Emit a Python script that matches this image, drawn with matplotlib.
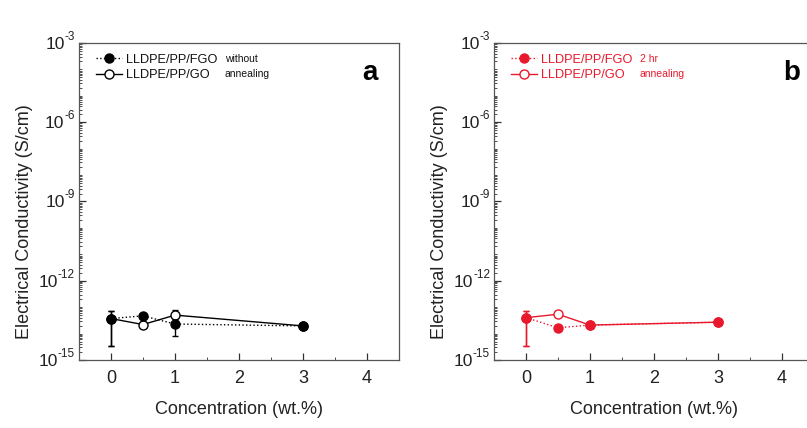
import matplotlib
matplotlib.use("Agg")
import matplotlib.pyplot as plt
from matplotlib.lines import Line2D
from matplotlib.ticker import LogLocator, FixedLocator, NullFormatter
import numpy as np

plt.rcParams['font.family'] = ['Liberation Sans', 'DejaVu Sans']

# Filler concentrations (wt.%)
conc = [0, 0.5, 1, 3]

# Panel a: without annealing (S/cm)
a_fgo = [3.7e-14, 4.7e-14, 2.3e-14, 1.95e-14]
a_go = [3.7e-14, 2.2e-14, 5.0e-14, 1.95e-14]
a_fgo_lo = [3.5e-15, 4.0e-14, 8.0e-15, 1.8e-14]
a_fgo_hi = [7.2e-14, 5.3e-14, 2.6e-14, 2.1e-14]
a_go_lo = [3.5e-15, 1.9e-14, 3.5e-14, 1.8e-14]
a_go_hi = [7.2e-14, 2.5e-14, 8.1e-14, 2.1e-14]

# Panel b: 2 hr annealing (S/cm)
b_fgo = [4.0e-14, 1.66e-14, 2.1e-14, 2.7e-14]
b_go = [4.0e-14, 5.4e-14, 2.1e-14, 2.7e-14]
b_fgo_lo = [3.5e-15, 1.5e-14, 1.9e-14, 2.4e-14]
b_fgo_hi = [7.2e-14, 1.9e-14, 2.3e-14, 3.0e-14]
b_go_lo = [3.5e-15, 4.2e-14, 1.9e-14, 2.4e-14]
b_go_hi = [7.2e-14, 6.2e-14, 2.3e-14, 3.0e-14]

x_ticks = [0, 1, 2, 3, 4]
y_exponents = [-15, -12, -9, -6, -3]

W, H = 807, 428
fig = plt.figure(figsize=(W / 100, H / 100), dpi=100)


def pixel_axes(left, top, width, height):
    return fig.add_axes([left / W, (H - top - height) / H, width / W, height / H])


def power_labels(ax):
    # "10" with a small raised exponent, right-aligned next to the left spine
    for e in y_exponents:
        v = 10.0 ** e
        sup = ax.annotate(f'-{abs(e)}' if e < 0 else str(e), xy=(0, v),
                          xycoords=('axes fraction', 'data'), xytext=(-4, 3),
                          textcoords='offset pixels', ha='right', va='baseline',
                          fontsize=8.5, color='#222222', annotation_clip=False)
        ax.annotate('10', xy=(0, v), xycoords=(sup, 'data'), xytext=(0, -6),
                    textcoords='offset pixels', ha='right', va='baseline',
                    fontsize=12.5, color='#222222', annotation_clip=False)


def draw_panel(ax, color, fgo, go, fgo_lo, fgo_hi, go_lo, go_hi, note1, note2):
    fgo = np.array(fgo); go = np.array(go)
    ax.errorbar(conc, go, yerr=[go - np.array(go_lo), np.array(go_hi) - go],
                color=color, ls='-', lw=1.0, marker='o', ms=6.5, mfc='white',
                mec=color, mew=1.0, capsize=2.5, elinewidth=1.0, zorder=2)
    ax.errorbar(conc, fgo, yerr=[fgo - np.array(fgo_lo), np.array(fgo_hi) - fgo],
                color=color, ls=':', lw=1.0, marker='o', ms=6.5, mfc=color,
                mec=color, capsize=2.5, elinewidth=1.0, zorder=3)
    ax.set_yscale('log')
    ax.set_xlim(-0.5, 4.5)
    ax.set_ylim(1e-15, 1e-3)
    ax.xaxis.set_major_locator(FixedLocator(x_ticks))
    ax.xaxis.set_minor_locator(FixedLocator(np.arange(0.5, 4.5, 1.0)))
    ax.yaxis.set_major_locator(FixedLocator([10.0 ** e for e in y_exponents]))
    ax.yaxis.set_major_formatter(NullFormatter())
    ax.yaxis.set_minor_locator(LogLocator(base=10, subs=np.arange(1, 10), numticks=30))
    ax.yaxis.set_minor_formatter(NullFormatter())
    ax.tick_params(which='both', direction='in', top=False, right=False,
                   labelsize=13, colors='#333333', labelcolor='#222222')
    ax.tick_params(axis='x', which='major', pad=7)
    ax.tick_params(which='major', length=5, width=0.9)
    ax.tick_params(which='minor', length=2.5, width=0.6)
    for s in ax.spines.values():
        s.set_color('#555555')
        s.set_linewidth(0.9)
    power_labels(ax)
    ax.set_xlabel('Concentration (wt.%)', fontsize=13, color='#222222')
    ax.set_ylabel('Electrical Conductivity (S/cm)', fontsize=13, color='#222222')
    ax.xaxis.set_label_coords(0.5, -0.13)
    ax.yaxis.set_label_coords(-0.145, 0.435)
    txt_color = color if color != 'black' else '#111111'
    handles = [
        Line2D([], [], color=color, ls=':', lw=1.0, marker='o', ms=6.5,
               mfc=color, mec=color),
        Line2D([], [], color=color, ls='-', lw=1.0, marker='o', ms=6.5,
               mfc='white', mec=color),
    ]
    leg = ax.legend(handles, ['LLDPE/PP/FGO', 'LLDPE/PP/GO'], loc='upper left',
                    frameon=False, fontsize=9.2, handlelength=2.0, handletextpad=0.35,
                    borderaxespad=0.3, labelspacing=0.3, bbox_to_anchor=(0.025, 0.995))
    for t in leg.get_texts():
        t.set_color(txt_color)
    ax.text(0.455, 0.950, note1, transform=ax.transAxes, fontsize=7.5,
            color=txt_color, va='center')
    ax.text(0.455, 0.902, note2, transform=ax.transAxes, fontsize=7.5,
            color=txt_color, va='center')
    return ax


ax_a = pixel_axes(79, 43, 320, 317)
draw_panel(ax_a, 'black', a_fgo, a_go, a_fgo_lo, a_fgo_hi, a_go_lo, a_go_hi,
           'without', 'annealing')
ax_a.text(0.91, 0.905, 'a', transform=ax_a.transAxes, fontsize=20,
          fontweight='bold', ha='center', va='center', color='black')

ax_b = pixel_axes(494, 43, 320, 317)
draw_panel(ax_b, '#e8192c', b_fgo, b_go, b_fgo_lo, b_fgo_hi, b_go_lo, b_go_hi,
           '2 hr', 'annealing')
ax_b.text(0.93, 0.905, 'b', transform=ax_b.transAxes, fontsize=20,
          fontweight='bold', ha='center', va='center', color='black')

fig.savefig('out.png', dpi=100)
